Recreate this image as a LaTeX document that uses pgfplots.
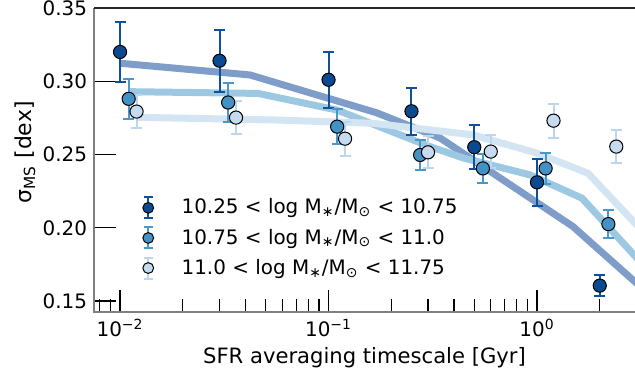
\documentclass[border=0pt]{standalone}
\usepackage{fontspec}
\setmainfont{DejaVu Sans}
\usepackage{pgfplots}
\usepackage{pgfplotstable}
\pgfplotsset{compat=1.18}
\definecolor{dk}{HTML}{0B4A91}
\definecolor{dkb}{HTML}{0F509C}
\definecolor{md}{HTML}{4292C6}
\definecolor{mdb}{HTML}{4A97CA}
\definecolor{lt}{HTML}{C6DBEF}
\definecolor{ltb}{HTML}{BCD6EE}
\definecolor{lA}{HTML}{7E9DC9}
\definecolor{lB}{HTML}{9DC8E2}
\definecolor{lC}{HTML}{D3E5F3}
\definecolor{spine}{HTML}{808080}

\newcommand\ebmark[2]{%
  \pgfsetlinewidth{1bp}\pgfsetstrokecolor{#2}%
  \pgfpathmoveto{\pgfpoint{0pt}{-5.25bp}}\pgfpathlineto{\pgfpoint{0pt}{5.25bp}}%
  \pgfpathmoveto{\pgfpoint{-2.3bp}{-5.25bp}}\pgfpathlineto{\pgfpoint{2.3bp}{-5.25bp}}%
  \pgfpathmoveto{\pgfpoint{-2.3bp}{5.25bp}}\pgfpathlineto{\pgfpoint{2.3bp}{5.25bp}}%
  \pgfusepathqstroke
  \pgfsetlinewidth{0.5bp}\pgfsetstrokecolor{black}\pgfsetfillcolor{#1}%
  \pgfpathcircle{\pgfpointorigin}{2.7bp}\pgfusepathqfillstroke}
\pgfdeclareplotmark{ebA}{\ebmark{dk}{dkb}}
\pgfdeclareplotmark{ebB}{\ebmark{md}{mdb}}
\pgfdeclareplotmark{ebC}{\ebmark{lt}{ltb}}

\pgfplotstableread{
x y e
0.01 0.320 0.0205
0.03 0.314 0.021
0.1 0.301 0.019
0.25 0.2795 0.016
0.5 0.255 0.015
1.0 0.231 0.016
2.0 0.1605 0.0072
}\sA
\pgfplotstableread{
x y e
0.011 0.288 0.0135
0.033 0.2855 0.013
0.11 0.269 0.012
0.275 0.2497 0.0105
0.55 0.2405 0.0097
1.1 0.2405 0.0105
2.2 0.2025 0.0094
}\sB
\pgfplotstableread{
x y e
0.012 0.2793 0.0115
0.036 0.2752 0.0115
0.12 0.2608 0.0115
0.3 0.2515 0.011
0.6 0.252 0.0115
1.2 0.2731 0.0115
2.4 0.2554 0.0113
}\sC
\pgfplotstableread{
x y
0.01 0.3123
0.042 0.3043
0.17 0.2785
0.3425 0.2613
1.488 0.2008
3.1 0.1604
}\mA
\pgfplotstableread{
x y
0.011 0.2929
0.0459 0.2917
0.1095 0.2804
0.3067 0.2554
0.4416 0.2477
0.9256 0.2361
1.644 0.2202
3.1 0.1774
}\mB
\pgfplotstableread{
x y
0.012 0.2754
0.0548 0.2736
0.1634 0.2713
0.3067 0.2668
0.4932 0.2634
1.0 0.2509
1.757 0.2372
3.1 0.1999
}\mC

\begin{document}
\fontsize{10}{12}\selectfont
\begin{tikzpicture}
\begin{axis}[name=ax, at={(0,0)}, anchor=south west,
  scale only axis, width=270.5bp, height=152bp,
  xmode=log, xmin=0.0075, xmax=2.951, ymin=0.1425, ymax=0.35,
  axis line style={draw=none},
  tick align=inside, xtick pos=bottom, ytick pos=left,
  major tick length=11bp, minor tick length=6.5bp,
  tick style={black, line width=0.6bp},
  xtick={0.01,0.1,1},
  xticklabels={10\textsuperscript{−2},10\textsuperscript{−1},10\textsuperscript{0}},
  minor xtick={0.008,0.009,0.02,0.03,0.04,0.05,0.06,0.07,0.08,0.09,0.2,0.3,0.4,0.5,0.6,0.7,0.8,0.9,2},
  ytick={0.15,0.2,0.25,0.3,0.35},
  yticklabel style={/pgf/number format/.cd, fixed, fixed zerofill, precision=2, assume math mode=true},
  tick label style={font=\fontsize{10}{12}\selectfont},
  xlabel={SFR averaging timescale [Gyr]},
  ylabel={σ\textsubscript{MS} [dex]},
  xlabel style={at={(axis description cs:0.5,-0.15)}, anchor=center, font=\fontsize{10.6}{12}\selectfont},
  ylabel style={at={(axis description cs:-0.1275,0.525)}, anchor=center, font=\fontsize{11}{12}\selectfont},
  legend style={draw=none, fill=none, at={(rel axis cs:0.0785,0.40)}, anchor=north west,
    row sep=2bp, column sep=12bp, font=\fontsize{10}{12}\selectfont},
  legend cell align=left,
]
\addplot[forget plot, lA, line width=3.5bp] table[x=x,y=y] {\mA};
\addplot[forget plot, lB, line width=3.5bp] table[x=x,y=y] {\mB};
\addplot[forget plot, lC, line width=3.5bp] table[x=x,y=y] {\mC};

\addplot[forget plot, only marks, mark=*, mark size=3.3bp,
  mark options={fill=dk, draw=black, line width=0.5bp},
  error bars/.cd, y dir=both, y explicit,
  error bar style={dkb, line width=1bp},
  error mark options={rotate=90, dkb, mark size=2.75bp, line width=1bp}]
  table[x=x, y=y, y error=e] {\sA};
\addplot[forget plot, only marks, mark=*, mark size=3.3bp,
  mark options={fill=md, draw=black, line width=0.5bp},
  error bars/.cd, y dir=both, y explicit,
  error bar style={mdb, line width=1bp},
  error mark options={rotate=90, mdb, mark size=2.75bp, line width=1bp}]
  table[x=x, y=y, y error=e] {\sB};
\addplot[forget plot, only marks, mark=*, mark size=3.3bp,
  mark options={fill=lt, draw=black, line width=0.5bp},
  error bars/.cd, y dir=both, y explicit,
  error bar style={ltb, line width=1bp},
  error mark options={rotate=90, ltb, mark size=2.75bp, line width=1bp}]
  table[x=x, y=y, y error=e] {\sC};

\addlegendimage{only marks, mark=ebA}
\addlegendentry{10.25 < log M\textsubscript{∗}/M\textsubscript{⊙} < 10.75}
\addlegendimage{only marks, mark=ebB}
\addlegendentry{10.75 < log M\textsubscript{∗}/M\textsubscript{⊙} < 11.0}
\addlegendimage{only marks, mark=ebC}
\addlegendentry{11.0 < log M\textsubscript{∗}/M\textsubscript{⊙} < 11.75}
\end{axis}
\draw[spine, line width=1bp] (ax.north west) -- (ax.south west) -- (ax.south east);
\draw[black!85, line width=0.75bp] (ax.north west) -- (ax.north east);
\pgfresetboundingbox
\path (-47bp,-35bp) rectangle (270.5bp,156bp);
\end{tikzpicture}
\end{document}
